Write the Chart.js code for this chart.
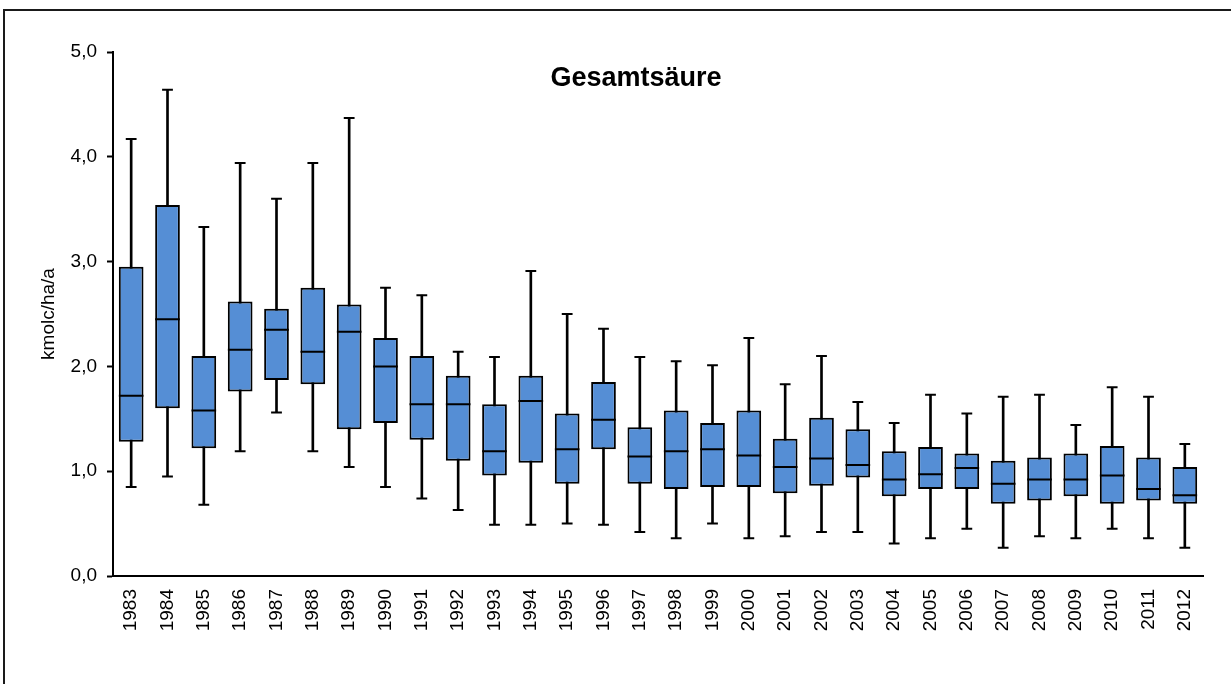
<!DOCTYPE html>
<html lang="de">
<head>
<meta charset="utf-8">
<title>Gesamtsäure</title>
<script src="https://cdn.jsdelivr.net/npm/chart.js@4.4.1/dist/chart.umd.min.js"></script>
<style>
    html, body {
        margin: 0;
        padding: 0;
        background: #ffffff;
    }
    #boxChart {
        display: block;
    }
</style>
</head>
<body>
<canvas id="boxChart" width="1231" height="684"></canvas>
<script>
// Years on the x axis
const years = ['1983', '1984', '1985', '1986', '1987', '1988', '1989', '1990', '1991', '1992',
    '1993', '1994', '1995', '1996', '1997', '1998', '1999', '2000', '2001', '2002',
    '2003', '2004', '2005', '2006', '2007', '2008', '2009', '2010', '2011', '2012'];

// Box plot statistics (kmolc/ha/a)
const minVals = [0.85, 0.95, 0.68, 1.19, 1.56, 1.19, 1.04, 0.85, 0.74, 0.63,
    0.49, 0.49, 0.50, 0.49, 0.42, 0.36, 0.50, 0.36, 0.38, 0.42,
    0.42, 0.31, 0.36, 0.45, 0.27, 0.38, 0.36, 0.45, 0.36, 0.27];
const q1Vals = [1.28, 1.60, 1.22, 1.76, 1.87, 1.83, 1.40, 1.46, 1.30, 1.10,
    0.96, 1.08, 0.88, 1.21, 0.88, 0.83, 0.85, 0.85, 0.79, 0.86,
    0.94, 0.76, 0.83, 0.83, 0.69, 0.72, 0.76, 0.69, 0.72, 0.69];
const medianVals = [1.72, 2.45, 1.58, 2.16, 2.35, 2.14, 2.33, 2.00, 1.64, 1.64,
    1.19, 1.67, 1.21, 1.49, 1.14, 1.19, 1.21, 1.15, 1.04, 1.12,
    1.06, 0.92, 0.97, 1.03, 0.88, 0.92, 0.92, 0.96, 0.83, 0.77];
const q3Vals = [2.95, 3.54, 2.10, 2.62, 2.55, 2.75, 2.59, 2.27, 2.10, 1.91,
    1.64, 1.91, 1.55, 1.85, 1.42, 1.58, 1.46, 1.58, 1.31, 1.51,
    1.40, 1.19, 1.23, 1.17, 1.10, 1.13, 1.17, 1.24, 1.13, 1.04];
const maxVals = [4.17, 4.64, 3.33, 3.94, 3.60, 3.94, 4.37, 2.75, 2.68, 2.14,
    2.09, 2.91, 2.50, 2.36, 2.09, 2.05, 2.01, 2.27, 1.83, 2.10,
    1.66, 1.46, 1.73, 1.55, 1.71, 1.73, 1.44, 1.80, 1.71, 1.26];

// Y axis tick values
const yTicks = [0, 1, 2, 3, 4, 5];

const chartTitle = 'Gesamtsäure';
const yAxisTitle = 'kmolc/ha/a';

const fontFamily = "'Liberation Sans', Arial, sans-serif";
const boxColor = '#558ED5';

// Floating bar ranges built from the arrays
const whiskerRanges = years.map((y, i) => [minVals[i], maxVals[i]]);
const boxRanges = years.map((y, i) => [q1Vals[i], q3Vals[i]]);

// Outer frame of the picture
const framePlugin = {
    id: 'frame',
    beforeDraw(chart) {
        const ctx = chart.ctx;
        ctx.save();
        ctx.fillStyle = '#ffffff';
        ctx.fillRect(0, 0, chart.width, chart.height);
        ctx.strokeStyle = '#1a1a1a';
        ctx.lineWidth = 2;
        ctx.strokeRect(4, 10, chart.width + 20, chart.height + 20);
        ctx.restore();
    }
};

// Title sits inside the plot area
const innerTitlePlugin = {
    id: 'innerTitle',
    afterDraw(chart) {
        const ctx = chart.ctx;
        ctx.save();
        ctx.font = 'bold 27px ' + fontFamily;
        ctx.fillStyle = '#000000';
        ctx.textAlign = 'center';
        ctx.textBaseline = 'alphabetic';
        ctx.fillText(chartTitle, 636, 86);
        ctx.restore();
    }
};

// Small helper for the horizontal marks (median, whisker caps)
function markDataset(values, radius) {
    return {
        type: 'line',
        data: values,
        showLine: false,
        pointStyle: 'line',
        pointRadius: radius,
        pointHoverRadius: radius,
        pointBorderWidth: 2,
        pointBorderColor: '#000000',
        pointBackgroundColor: '#000000',
        order: 1
    };
}

const config = {
    type: 'bar',
    data: {
        labels: years,
        datasets: [
            {
                // whisker line behind the box
                data: whiskerRanges,
                backgroundColor: '#000000',
                barThickness: 2,
                grouped: false,
                order: 3
            },
            {
                data: boxRanges,
                backgroundColor: boxColor,
                borderColor: '#000000',
                borderWidth: 2,
                borderSkipped: false,
                barPercentage: 0.68,
                categoryPercentage: 1.0,
                grouped: false,
                order: 2
            },
            markDataset(medianVals, 12.3),
            markDataset(minVals, 5.4),
            markDataset(maxVals, 5.4)
        ]
    },
    options: {
        responsive: false,
        animation: false,
        events: [],
        layout: {
            padding: { left: 33, right: 28, top: 52, bottom: 0 }
        },
        plugins: {
            legend: { display: false },
            tooltip: { enabled: false }
        },
        scales: {
            x: {
                grid: { display: false, drawTicks: false },
                border: { display: true, color: '#000000', width: 2 },
                ticks: {
                    color: '#000000',
                    font: { family: fontFamily, size: 19 },
                    minRotation: 90,
                    maxRotation: 90,
                    autoSkip: false,
                    padding: 13
                },
                afterFit(scale) {
                    scale.height = 108;
                }
            },
            y: {
                min: 0,
                max: 5,
                afterBuildTicks(scale) {
                    scale.ticks = yTicks.map(v => ({ value: v }));
                },
                grid: {
                    drawOnChartArea: false,
                    drawTicks: true,
                    tickLength: 6,
                    tickWidth: 2,
                    color: '#000000'
                },
                border: { display: true, color: '#000000', width: 2 },
                ticks: {
                    color: '#000000',
                    font: { family: fontFamily, size: 19 },
                    padding: 10,
                    callback: value => value.toFixed(1).replace('.', ',')
                },
                title: {
                    display: true,
                    text: yAxisTitle,
                    color: '#000000',
                    font: { family: fontFamily, size: 19 },
                    padding: { top: 4, bottom: 4 }
                },
                afterFit(scale) {
                    scale.width = 80;
                }
            }
        }
    },
    plugins: [framePlugin, innerTitlePlugin]
};

const boxChart = new Chart(document.getElementById('boxChart'), config);
</script>
</body>
</html>
